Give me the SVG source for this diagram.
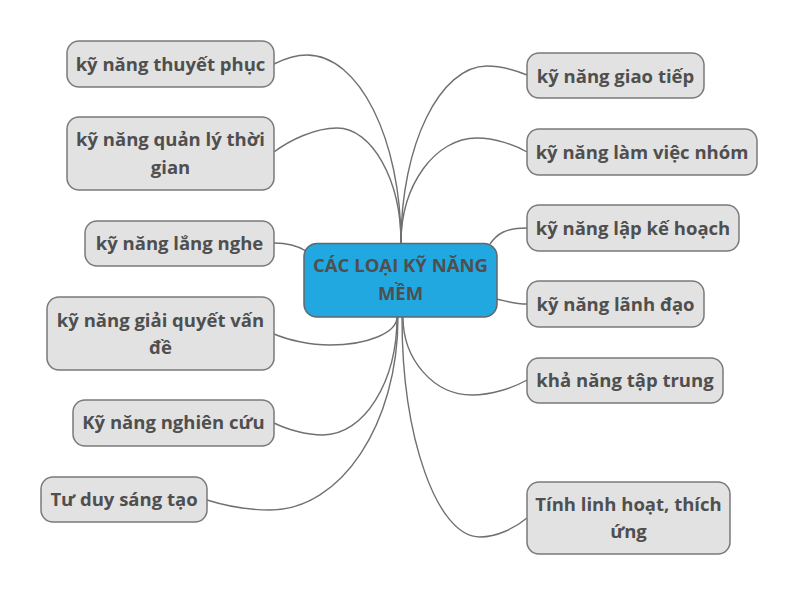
<svg xmlns="http://www.w3.org/2000/svg" width="800" height="598" viewBox="0 0 800 598">
<style>
.n rect{fill:#e2e2e2;stroke:#7a7a7a;stroke-width:1.5}
.c rect{fill:#22a8e0;stroke:#666;stroke-width:1.5}
text{font-family:"Open Sans","Noto Sans","DejaVu Sans",sans-serif;font-weight:bold;font-size:18.5px;fill:#4f4f4f;text-anchor:middle}
#connectors path{fill:none;stroke:#707070;stroke-width:1.4}
</style>
<rect width="800" height="598" fill="#fff"/>
<g id="connectors">
<path d="M401,243 C401,139 359,55 307,55 C295,55 282,60 274,64"/>
<path d="M401,243 C401,180 372,128 337,128 C315,128 290,140 274,152"/>
<path d="M306,251 C298,246 288,243 274,243"/>
<path d="M397,317 C397,333 367,345 330,345 C310,345 288,340 274,334"/>
<path d="M397,317 C397,382 364,435 323,435 C306,435 286,429 274,423"/>
<path d="M398,317 C398,424 341,510 270,510 C248,510 223,505 207,500"/>
<path d="M401,243 C401,145 440,66 487,66 C501,66 517,71 527,75"/>
<path d="M401,243 C401,185 435,138 477,138 C495,138 515,145 527,152"/>
<path d="M490,244 C497,234 505,228 527,228"/>
<path d="M496,299 C510,302 515,304 527,304"/>
<path d="M403,317 C403,360 434,395 472,395 C491,395 513,388 527,380"/>
<path d="M402,317 C402,438 437,537 480,537 C497,537 515,528 527,518"/>
</g>
<g id="center" class="c"><rect x="304" y="243.5" width="193" height="73.5" rx="13"/><text x="400.5" y="271.5">CÁC LOẠI KỸ NĂNG</text><text x="400.5" y="299.5">MỀM</text></g>
<g id="n-thuyetphuc" class="n"><rect x="67" y="41" width="207" height="46" rx="12"/><text x="170.5" y="70.5">kỹ năng thuyết phục</text></g>
<g id="n-quanly" class="n"><rect x="67" y="117" width="207" height="73" rx="12"/><text x="170.5" y="145.5">kỹ năng quản lý thời</text><text x="170.5" y="173.5">gian</text></g>
<g id="n-langnghe" class="n"><rect x="85" y="221" width="189" height="45" rx="12"/><text x="179.5" y="249.5">kỹ năng lắng nghe</text></g>
<g id="n-giaiquyet" class="n"><rect x="47" y="297" width="227" height="73" rx="12"/><text x="160.5" y="326.5">kỹ năng giải quyết vấn</text><text x="160.5" y="353.5">đề</text></g>
<g id="n-nghiencuu" class="n"><rect x="73" y="400" width="201" height="46" rx="12"/><text x="173.5" y="428.5">Kỹ năng nghiên cứu</text></g>
<g id="n-tuduy" class="n"><rect x="41" y="477" width="166" height="45" rx="12"/><text x="124" y="505.5">Tư duy sáng tạo</text></g>
<g id="n-giaotiep" class="n"><rect x="527" y="53" width="177" height="45" rx="12"/><text x="615.5" y="82.5">kỹ năng giao tiếp</text></g>
<g id="n-lamviec" class="n"><rect x="527" y="129" width="230" height="46" rx="12"/><text x="642" y="158.5">kỹ năng làm việc nhóm</text></g>
<g id="n-lapkehoach" class="n"><rect x="527" y="205" width="212" height="46" rx="12"/><text x="633" y="234.5">kỹ năng lập kế hoạch</text></g>
<g id="n-lanhdao" class="n"><rect x="527" y="281" width="177" height="46" rx="12"/><text x="615.5" y="310.5">kỹ năng lãnh đạo</text></g>
<g id="n-taptrung" class="n"><rect x="527" y="358" width="196" height="45" rx="12"/><text x="625" y="386.5">khả năng tập trung</text></g>
<g id="n-linhhoat" class="n"><rect x="527" y="482" width="203" height="72" rx="12"/><text x="628.5" y="510.5">Tính linh hoạt, thích</text><text x="628.5" y="537.5">ứng</text></g>
</svg>
